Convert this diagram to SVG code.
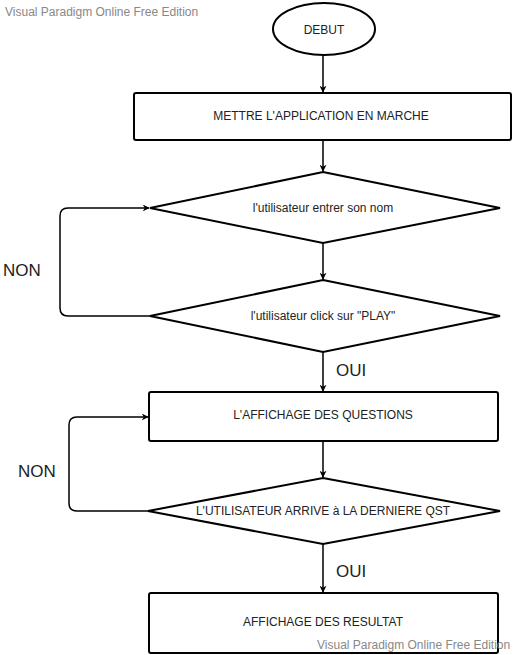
<svg xmlns="http://www.w3.org/2000/svg" width="515" height="655" viewBox="0 0 515 655">
<style>
.s{fill:#fff;stroke:#000;stroke-width:2}
.t{font-family:"Liberation Sans",Arial,sans-serif;font-size:12px;fill:#222;text-anchor:middle}
.l{font-family:"Liberation Sans",Arial,sans-serif;font-size:17px;fill:#222}
.w{font-family:"Liberation Sans",Arial,sans-serif;font-size:12px;fill:#888}
.c{fill:none;stroke:#000;stroke-width:1.5;marker-end:url(#a)}
</style>
<defs>
<marker id="a" viewBox="0 0 10 10" refX="9" refY="5" markerWidth="7" markerHeight="7" markerUnits="userSpaceOnUse" orient="auto">
<path d="M0,0 L10,5 L0,10 L3,5 Z" fill="#000"/>
</marker>
</defs>
<rect width="515" height="655" fill="#fff"/>
<text class="w" x="5" y="16">Visual Paradigm Online Free Edition</text>
<g id="connectors">
<path class="c" d="M323,55 V92"/>
<path class="c" d="M323,140 V171"/>
<path class="c" d="M323,243 V279"/>
<path class="c" d="M150,316 H68 Q60,316 60,308 V216 Q60,208 68,208 H149"/>
<path class="c" d="M323,352 V391"/>
<path class="c" d="M323,441 V477"/>
<path class="c" d="M148,511 H77 Q69,511 69,503 V425 Q69,417 77,417 H148"/>
<path class="c" d="M323,544 V592"/>
<text class="l" x="3" y="276">NON</text>
<text class="l" x="18" y="477">NON</text>
<text class="l" x="336" y="376">OUI</text>
<text class="l" x="336" y="577">OUI</text>
</g>
<g id="debut"><ellipse class="s" cx="324" cy="29" rx="51" ry="26"/><text class="t" x="324" y="34">DEBUT</text></g>
<g id="mettre"><rect class="s" x="134" y="93" width="377" height="47" rx="2"/><text class="t" x="321" y="120">METTRE L'APPLICATION EN MARCHE</text></g>
<g id="nom"><polygon class="s" points="323,172 500,208 323,243 150,208"/><text class="t" x="323" y="212">l'utilisateur entrer son nom</text></g>
<g id="play"><polygon class="s" points="323,280 500,316 323,352 150,316"/><text class="t" x="323" y="320">l'utilisateur click sur "PLAY"</text></g>
<g id="questions"><rect class="s" x="149" y="392" width="349" height="49" rx="2"/><text class="t" x="323" y="419">L'AFFICHAGE DES QUESTIONS</text></g>
<g id="derniere"><polygon class="s" points="323,478 500,511 323,544 148,511"/><text class="t" x="323" y="515">L'UTILISATEUR ARRIVE à LA DERNIERE QST</text></g>
<g id="resultat"><rect class="s" x="149" y="593" width="349" height="60" rx="2"/><text class="t" x="323" y="626">AFFICHAGE DES RESULTAT</text></g>
<text class="w" x="317" y="649">Visual Paradigm Online Free Edition</text>
</svg>
